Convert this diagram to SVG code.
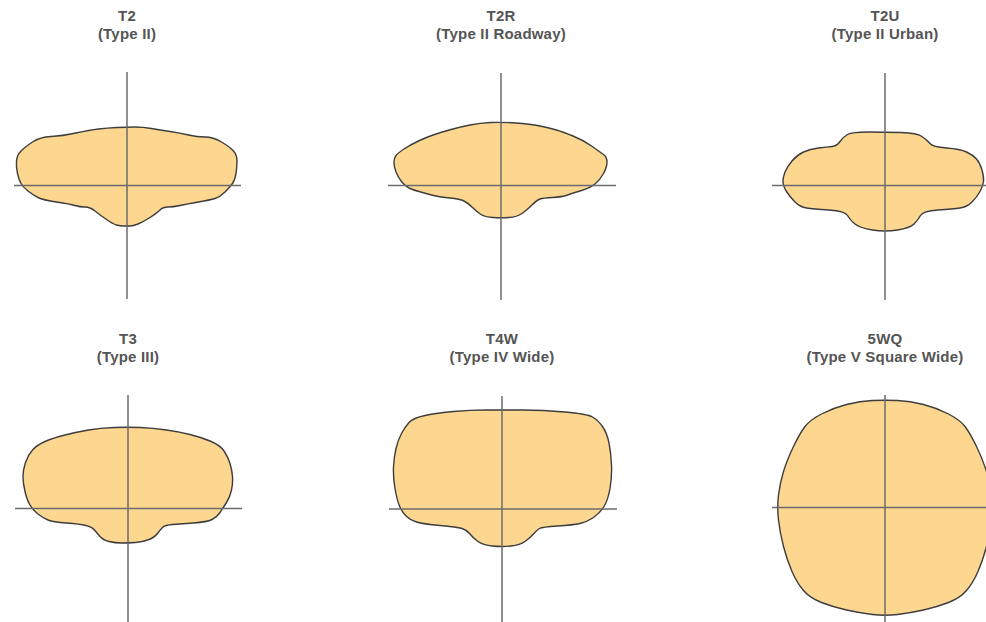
<svg xmlns="http://www.w3.org/2000/svg" width="986" height="622" viewBox="0 0 986 622">
<style>
.bg{fill:#ffffff}
.shape{fill:#FDD68F;stroke:#3d3d3d;stroke-width:1.4;stroke-linejoin:round}
.axis{stroke:#6b6b6b;stroke-width:1.5;fill:none}
.t{font-family:"Liberation Sans",Arial,sans-serif;font-weight:bold;font-size:15px;letter-spacing:0.2px;fill:#555555;text-anchor:middle}
</style>
<rect class="bg" x="0" y="0" width="986" height="622"/>
<g id="t2">
<text class="t" x="127" y="21">T2</text>
<text class="t" x="127" y="39">(Type II)</text>
<path class="shape" d="M135,127 Q127,127 117,127.5 Q107,128 98.5,129 Q90,130 76,133 Q62,136 51,136.5 Q40,137 32.5,142 Q25,147 21,151 Q17,155 16.5,161 Q16,167 17.5,173.5 Q19,180 21,183.5 Q23,187 28,191 Q33,195 38,197.5 Q43,200 56.5,202 Q70,204 75,205.5 Q80,207 85,207 Q90,207 95,211 Q100,215 106.5,219.5 Q113,224 116.5,225 Q120,226 123.5,226 Q127,226 130,226 Q133,226 138,224 Q143,222 150,217.5 Q157,213 160,210 Q163,207 168,207 Q173,207 180,205.5 Q187,204 198.5,202 Q210,200 215,198.5 Q220,197 225,192 Q230,187 232.5,183.5 Q235,180 236,173.5 Q237,167 237,161 Q237,155 233.5,151 Q230,147 221.5,142 Q213,137 205,137 Q197,137 188.5,135 Q180,133 170,131.5 Q160,130 151.5,128.5 Q143,127 135,127 Z"/>
<line class="axis" x1="127" y1="72" x2="127" y2="299"/>
<line class="axis" x1="14" y1="185.5" x2="241" y2="185.5"/>
</g>
<g id="t2r">
<text class="t" x="501" y="21">T2R</text>
<text class="t" x="501" y="39">(Type II Roadway)</text>
<path class="shape" d="M515.5,123 Q501,122 490.5,122.5 Q480,123 470,125 Q460,127 451,129.5 Q442,132 434.5,134.5 Q427,137 418.5,141 Q410,145 404,149 Q398,153 396,155.5 Q394,158 394,162.5 Q394,167 396,172 Q398,177 401.5,181.5 Q405,186 409,188 Q413,190 422.5,192.5 Q432,195 436,196 Q440,197 450,198 Q460,199 464,201 Q468,203 472.5,207.5 Q477,212 481,214.5 Q485,217 493,217.5 Q501,218 509,217.5 Q517,217 522,213.5 Q527,210 532,205 Q537,200 540,199 Q543,198 552.5,197.5 Q562,197 567.5,195 Q573,193 581.5,190.5 Q590,188 595,184 Q600,180 603.5,173.5 Q607,167 607,162 Q607,157 603.5,154.5 Q600,152 591.5,146 Q583,140 573,136 Q563,132 556.5,130 Q550,128 540,126 Q530,124 515.5,123 Z"/>
<line class="axis" x1="501" y1="73" x2="501" y2="300"/>
<line class="axis" x1="388" y1="185.5" x2="616" y2="185.5"/>
</g>
<g id="t2u">
<text class="t" x="885" y="21">T2U</text>
<text class="t" x="885" y="39">(Type II Urban)</text>
<path class="shape" d="M901,132.5 Q885,132 868.5,132 Q852,132 847.5,134.5 Q843,137 840,141.5 Q837,146 832,146.5 Q827,147 818.5,148 Q810,149 803.5,152 Q797,155 792,161 Q787,167 785,172 Q783,177 783,181.5 Q783,186 786.5,191.5 Q790,197 795,202 Q800,207 806.5,208 Q813,209 829,210 Q845,211 847.5,215.5 Q850,220 855,224 Q860,228 872.5,230 Q885,232 897.5,230 Q910,228 914,224 Q918,220 920.5,215.5 Q923,211 938,210 Q953,209 960,208 Q967,207 972,202 Q977,197 980,191.5 Q983,186 983.5,181.5 Q984,177 982,170 Q980,163 976.5,159 Q973,155 966.5,152 Q960,149 946.5,148 Q933,147 930,143.5 Q927,140 922,136.5 Q917,133 901,132.5 Z"/>
<line class="axis" x1="885" y1="73" x2="885" y2="300"/>
<line class="axis" x1="772" y1="185.5" x2="986" y2="185.5"/>
</g>
<g id="t3">
<text class="t" x="128" y="344">T3</text>
<text class="t" x="128" y="362">(Type III)</text>
<path class="shape" d="M140.5,427.5 Q128,427 114,427.5 Q100,428 88.5,430 Q77,432 65,435 Q53,438 45,441.5 Q37,445 32.5,450 Q28,455 25.5,462.5 Q23,470 23,476.5 Q23,483 25,491.5 Q27,500 30,505 Q33,510 38,514 Q43,518 48,520 Q53,522 66.5,523 Q80,524 86,525.5 Q92,527 94.5,530 Q97,533 100,536.5 Q103,540 109,541.5 Q115,543 121.5,543 Q128,543 135.5,542.5 Q143,542 149,539.5 Q155,537 157.5,533.5 Q160,530 162.5,527.5 Q165,525 172.5,524.5 Q180,524 193.5,523 Q207,522 212,519.5 Q217,517 220,512.5 Q223,508 226.5,502.5 Q230,497 231.5,490 Q233,483 232.5,476.5 Q232,470 230,463.5 Q228,457 224,451 Q220,445 210,441 Q200,437 190,434.5 Q180,432 166.5,430 Q153,428 140.5,427.5 Z"/>
<line class="axis" x1="128" y1="395" x2="128" y2="622"/>
<line class="axis" x1="15" y1="508.5" x2="242" y2="508.5"/>
</g>
<g id="t4w">
<text class="t" x="502" y="344">T4W</text>
<text class="t" x="502" y="362">(Type IV Wide)</text>
<path class="shape" d="M522.5,410 Q502,410 486,410 Q470,410 453.5,411.5 Q437,413 425,415.5 Q413,418 409,422.5 Q405,427 401.5,433.5 Q398,440 396,448.5 Q394,457 393.5,467 Q393,477 395,488.5 Q397,500 399.5,506 Q402,512 406,516 Q410,520 416.5,522 Q423,524 440,525.5 Q457,527 462,528.5 Q467,530 470,534 Q473,538 478,541.5 Q483,545 492.5,546 Q502,547 511,546 Q520,545 525,541.5 Q530,538 533.5,534 Q537,530 539.5,528.5 Q542,527 557.5,526 Q573,525 580,523.5 Q587,522 593.5,517.5 Q600,513 604,506.5 Q608,500 610,488.5 Q612,477 611.5,465 Q611,453 609,443 Q607,433 602.5,426.5 Q598,420 592.5,417 Q587,414 565,412 Q543,410 522.5,410 Z"/>
<line class="axis" x1="502" y1="396" x2="502" y2="622"/>
<line class="axis" x1="389" y1="509" x2="617" y2="509"/>
</g>
<g id="t5wq">
<text class="t" x="885" y="344">5WQ</text>
<text class="t" x="885" y="362">(Type V Square Wide)</text>
<path class="shape" d="M897.5,400.5 Q885,400 872.5,400.5 Q860,401 846.5,404.5 Q833,408 821.5,414 Q810,420 805,426.5 Q800,433 793.5,446.5 Q787,460 783.5,471.5 Q780,483 778.5,495 Q777,507 778.5,520 Q780,533 783.5,546.5 Q787,560 792,571.5 Q797,583 803.5,590.5 Q810,598 821.5,602.5 Q833,607 846.5,610 Q860,613 872.5,614.5 Q885,616 897.5,614.5 Q910,613 923.5,610 Q937,607 948.5,602.5 Q960,598 966.5,590.5 Q973,583 978,571.5 Q983,560 986.5,546.5 Q990,533 991.5,520 Q993,507 991.5,495 Q990,483 986.5,471.5 Q983,460 976.5,446.5 Q970,433 965,426.5 Q960,420 948.5,414 Q937,408 923.5,404.5 Q910,401 897.5,400.5 Z"/>
<line class="axis" x1="885" y1="395" x2="885" y2="622"/>
<line class="axis" x1="772" y1="507.5" x2="986" y2="507.5"/>
</g>
</svg>
